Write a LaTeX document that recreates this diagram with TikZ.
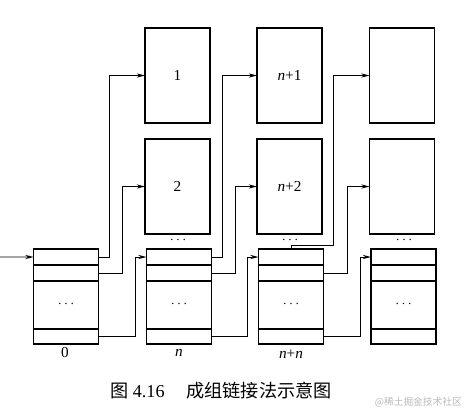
\documentclass[tikz,border=0pt]{standalone}
\usepackage{fontspec}
\setmainfont{Liberation Serif}
\newfontfamily\cjk{Noto Sans CJK SC}
\usetikzlibrary{arrows.meta,calc}

\begin{document}
\begin{tikzpicture}[x=0.03cm,y=0.03cm,
  every node/.style={font=\fontsize{13}{15}\selectfont},
  blk/.style={draw,line width=1.2pt,minimum width=1.95cm,minimum height=2.85cm,inner sep=0pt,outer sep=0pt},
  cell/.style={line width=1.1pt},
  link/.style={line width=0.75pt,-{Stealth[length=7pt,width=3.5pt]}}]
  \useasboundingbox (0,0) rectangle (470,-411);
  % free blocks hanging off each group
  \node[blk] (b1) at (177.5,-75.5) {1};
  \node[blk] (b2) at (177.5,-186.5) {2};
  \node[blk] (bn1) at (289.5,-75.5) {\textit{n}+1};
  \node[blk] (bn2) at (289.5,-186.5) {\textit{n}+2};
  \node[blk] (bx1) at (402,-75.5) {};
  \node[blk] (bx2) at (402,-186.5) {};
  \node (d1) at (178,-240) {$\cdots$};
  \node (d2) at (290,-240) {$\cdots$};
  \node (d3) at (404,-240) {$\cdots$};
  % group leader blocks
  \node[blk] (g0) at (66,-296.5) {};
  \node[blk] (gn) at (179,-296.5) {};
  \node[blk] (gnn) at (291,-296.5) {};
  \node[blk] (gx) at (403.5,-296.5) {};
  \draw[cell] ($(g0.north west)+(0,-16)$) -- +(65,0) ($(g0.north west)+(0,-32)$) -- +(65,0) ($(g0.south west)+(0,15)$) -- +(65,0);
  \draw[cell] ($(gn.north west)+(0,-16)$) -- +(65,0) ($(gn.north west)+(0,-32)$) -- +(65,0) ($(gn.south west)+(0,15)$) -- +(65,0);
  \draw[cell] ($(gnn.north west)+(0,-16)$) -- +(65,0) ($(gnn.north west)+(0,-32)$) -- +(65,0) ($(gnn.south west)+(0,15)$) -- +(65,0);
  \draw[cell] ($(gx.north west)+(0,-16)$) -- +(65,0) ($(gx.north west)+(0,-32)$) -- +(65,0) ($(gx.south west)+(0,15)$) -- +(65,0);
  \node (g0d) at ($(g0)+(0,-8)$) {$\cdots$};
  \node (gnd) at ($(gn)+(0,-8)$) {$\cdots$};
  \node (gnnd) at ($(gnn)+(0,-8)$) {$\cdots$};
  \node (gxd) at ($(gx)+(0,-8)$) {$\cdots$};
  \node (l0) at (65,-353) {0};
  \node (ln) at (179,-353) {\textit{n}};
  \node (lnn) at (291,-354) {\textit{n}+\textit{n}};
  % links
  \coordinate (src) at (0,-257);
  \draw[link] (src) -- ($(g0.north west)+(0,-8)$);
  \draw[link] ($(g0.north east)+(0,-8)$) -- ++(11,0) |- (b1);
  \draw[link] ($(g0.north east)+(0,-24)$) -- ++(24,0) |- (b2);
  \draw[link] ($(g0.south east)+(0,8)$) -- ++(37,0) |- ($(gn.north west)+(0,-8)$);
  \draw[link] ($(gn.north east)+(0,-8)$) -- ++(11,0) |- (bn1);
  \draw[link] ($(gn.north east)+(0,-24)$) -- ++(24,0) |- (bn2);
  \draw[link] ($(gn.south east)+(0,8)$) -- ++(36,0) |- ($(gnn.north west)+(0,-8)$);
  \draw[link] (gnn.north) -- ++(0,4) -- ++(42,0) |- (bx1);
  \draw[link] ($(gnn.north east)+(0,-24)$) -- ++(24,0) |- (bx2);
  \draw[link] ($(gnn.south east)+(0,8)$) -- ++(37,0) |- ($(gx.north west)+(0,-8)$);
  % caption
  \node[anchor=west,font=\fontsize{15.5}{18}\selectfont] (cap) at (106,-391) {{\cjk 图} 4.16\hspace{1.2em}{\cjk 成组链接法示意图}};
  \node[anchor=east,text=gray!55,font=\fontsize{8.3}{10}\selectfont\cjk] (wm) at (466,-402) {@稀土掘金技术社区};
\end{tikzpicture}
\end{document}
